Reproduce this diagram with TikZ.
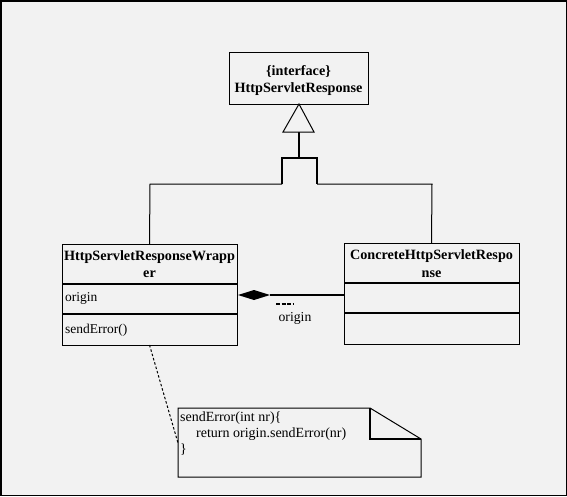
\documentclass[tikz,border=0pt]{standalone}
\usepackage{fontspec}
\setmainfont{Liberation Serif}
\begin{document}
\begin{tikzpicture}[x=1pt,y=-1pt,
  box/.style={draw=black,line width=1pt,inner sep=0pt,outer sep=0pt,fill=bgc},
  title/.style={font=\bfseries\fontsize{14.2}{17.5}\selectfont,align=center,inner sep=0pt},
  member/.style={font=\fontsize{13.5}{16}\selectfont,anchor=west,inner sep=0pt},
  divider/.style={line width=2pt},
  thin/.style={line width=1pt},
  thickl/.style={line width=2pt}]
\definecolor{bgc}{HTML}{F2F2F2}
\useasboundingbox (0,0) rectangle (567,496);
\fill[bgc] (0,0) rectangle (567,496);
\draw[line width=1.5pt] (0.75,0.75) rectangle (566.25,495.25);

% interface
\node[box,minimum width=139pt,minimum height=52pt] (iface) at (298.5,78) {};
\node[title] (ifacet) at (298.5,80.5) {\{interface\}\\HttpServletResponse};

% wrapper
\node[box,minimum width=175pt,minimum height=101pt] (wrap) at (149.5,294.5) {};
\node[title] (wrapt) at (149.5,264) {HttpServletResponseWrapp\\er};
\draw[divider] (62,284) -- (237,284);
\draw[divider] (62,314) -- (237,314);
\node[member] (worig) at (65,298.5) {origin};
\node[member] (wsend) at (65,330) {sendError()};

% concrete
\node[box,minimum width=175pt,minimum height=101pt] (conc) at (431.5,294) {};
\node[title] (conct) at (431.5,263.5) {ConcreteHttpServletRespo\\nse};
\draw[divider] (344,283) -- (519,283);
\draw[divider] (344,313) -- (519,313);

% generalization
\coordinate (gl) at (150,184);
\coordinate (gr) at (432,184);
\coordinate (bl) at (282,184);
\coordinate (br) at (317,184);
\coordinate (tl) at (282,158);
\coordinate (tr) at (317,158);
\coordinate (sb) at (299,158);
\coordinate (st) at (299,132);
\draw[thin] (wrap.north) -- (gl) -- (bl);
\draw[thin] (conc.north) -- (gr) -- (br);
\draw[thickl] (bl) -- (tl) -- (tr) -- (br);
\draw[thickl] (sb) -- (st);
\draw[thin,fill=bgc] (283,132) -- (iface.south -| 299,0) -- (314,132) -- cycle;

% aggregation
\coordinate (dt) at (238,295);
\coordinate (de) at (270,295);
\fill[black] (dt) -- (254,290) -- (de) -- (254,300) -- cycle;
\draw[thickl] (de) -- (conc.west |- de);
\draw[line width=1.3pt,dash pattern=on 4pt off 1.5pt] (276,304) -- (293,304);
\node[font=\fontsize{13.7}{16}\selectfont,inner sep=0pt] (alab) at (295,318) {origin};

% note
\coordinate (n1) at (178,408);
\coordinate (n2) at (370,408);
\coordinate (n3) at (421,439);
\coordinate (n4) at (421,477);
\coordinate (n5) at (178,477);
\coordinate (n6) at (370,439);
\draw[thin,fill=bgc] (n1) -- (n2) -- (n3) -- (n4) -- (n5) -- cycle;
\draw[thickl] (n2) -- (n6) -- (n3);
\node[font=\fontsize{14}{16}\selectfont,anchor=north west,inner sep=0pt] (note) at (180,410) {%
\begin{tabular}{@{}l@{}}sendError(int nr)\{\\\hspace*{16pt}return origin.sendError(nr)\\\}\end{tabular}};
\draw[thin,dash pattern=on 2.5pt off 2pt] (wrap.south) -- (178,443);
\end{tikzpicture}
\end{document}
